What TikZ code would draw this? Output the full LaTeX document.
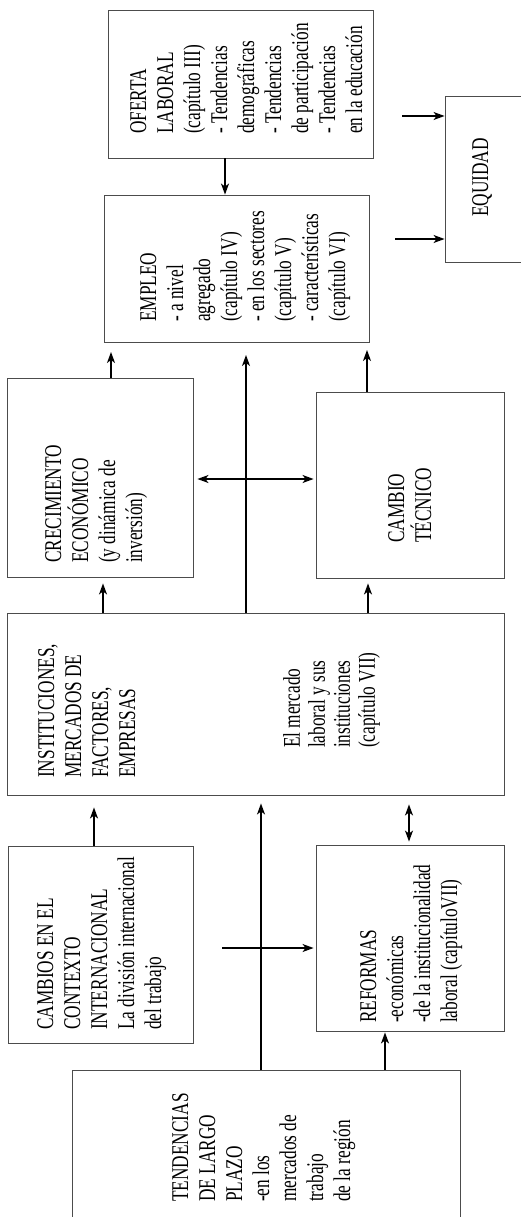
\documentclass[tikz,border=0pt]{standalone}
\usepackage{fontspec}
\setmainfont[FakeStretch=0.72]{Liberation Serif}
\usetikzlibrary{arrows.meta}

\tikzset{
  caja/.style={draw=black!70, line width=0.9pt, inner sep=0pt},
  texto/.style={rotate=90, anchor=north west, inner sep=0pt, align=left,
    font=\fontsize{24}{27}\selectfont},
  flecha/.style={line width=1.3pt, -{Stealth[length=11pt,width=8pt,inset=3pt]}},
  flechas/.style={line width=1.3pt,
    {Stealth[length=11pt,width=8pt,inset=3pt]}-{Stealth[length=11pt,width=8pt,inset=3pt]}},
}

\begin{document}
\begin{tikzpicture}[x=1pt,y=-1pt]
  \useasboundingbox (0,0) rectangle (521,1217);
  \clip (0,0) rectangle (521,1217);

  % cajas
  \node[caja, minimum width=265, minimum height=148] (oferta) at (240.5,84) {};
  \node[caja, minimum width=95, minimum height=166] (equidad) at (492.5,179) {};
  \node[caja, minimum width=265, minimum height=147] (empleo) at (236.5,268.5) {};
  \node[caja, minimum width=186, minimum height=199] (crec) at (100,477.5) {};
  \node[caja, minimum width=188, minimum height=186] (tecnico) at (410,485) {};
  \node[caja, minimum width=497, minimum height=182] (inst) at (255.5,704) {};
  \node[caja, minimum width=185, minimum height=197] (cambios) at (100.5,944.5) {};
  \node[caja, minimum width=188, minimum height=186] (reformas) at (410,938) {};
  \node[caja, minimum width=388, minimum height=170] (tendencias) at (266,1155) {};

  % textos
  \node[texto] (oferta txt) at (130,134) {OFERTA\\LABORAL\\(capítulo III)\\- Tendencias\\demográficas\\- Tendencias\\de participación\\- Tendencias\\en la educación};
  \node[texto] (equidad txt) at (472,217) {EQUIDAD};
  \node[texto] (empleo txt) at (140,322) {EMPLEO\\- a nivel\\agregado\\(capítulo IV)\\- en los sectores\\(capítulo V)\\- características\\(capítulo VI)};
  \node[texto] (crec txt) at (45,563) {CRECIMIENTO\\ECONÓMICO\\(y dinámica de\\inversión)};
  \node[texto] (tecnico txt) at (388,543) {CAMBIO\\TÉCNICO};
  \node[texto] (inst txt) at (38,778) {INSTITUCIONES,\\MERCADOS DE\\FACTORES,\\EMPRESAS};
  \node[texto, font=\fontsize{24}{25}\selectfont] (mercado txt) at (283,748) {El mercado\\laboral y sus\\instituciones\\(capítulo VII)};
  \node[texto] (cambios txt) at (37,1030) {CAMBIOS EN EL\\CONTEXTO\\INTERNACIONAL\\La división internacional\\del trabajo};
  \node[texto] (reformas txt) at (360,1023) {REFORMAS\\-económicas\\-de la institucionalidad\\laboral (capítuloVII)};
  \node[texto] (tend txt) at (172,1202) {TENDENCIAS\\DE LARGO\\PLAZO\\-en los\\mercados de\\trabajo\\de la región};

  % flechas
  \coordinate (eq arriba) at (402,116);
  \coordinate (eq abajo) at (395,239);
  \coordinate (crec punta) at (111,352);
  \coordinate (tec punta) at (367,350);
  \coordinate (centro punta) at (246,355);
  \coordinate (ref origen) at (222,948);

  \draw[flecha] (225,0 |- oferta.south) -- (225,0 |- empleo.north);
  \draw[flecha] (eq arriba) -- (eq arriba -| equidad.west);
  \draw[flecha] (eq abajo) -- (eq abajo -| equidad.west);
  \draw[flecha] (crec punta |- crec.north) -- (crec punta);
  \draw[flecha] (tec punta |- tecnico.north) -- (tec punta);
  \draw[flecha] (centro punta |- inst.north) -- (centro punta);
  \draw[flechas, shorten <=4pt, shorten >=2pt] (crec.east |- 0,479) -- (tecnico.west |- 0,479);
  \draw[flecha, shorten >=6pt] (103,0 |- inst.north) -- (103,0 |- crec.south);
  \draw[flecha, shorten >=5pt] (368,0 |- inst.north) -- (368,0 |- tecnico.south);
  \draw[flecha, shorten >=12pt] (94,0 |- cambios.north) -- (94,0 |- inst.south);
  \draw[flecha, shorten >=8pt] (261,0 |- tendencias.north) -- (261,0 |- inst.south);
  \draw[flechas, shorten <=3pt, shorten >=9pt] (409,0 |- reformas.north) -- (409,0 |- inst.south);
  \draw[flecha, shorten >=2pt] (ref origen) -- (ref origen -| reformas.west);
  \draw[flecha, shorten >=1pt] (385,0 |- tendencias.north) -- (385,0 |- reformas.south);
\end{tikzpicture}
\end{document}
